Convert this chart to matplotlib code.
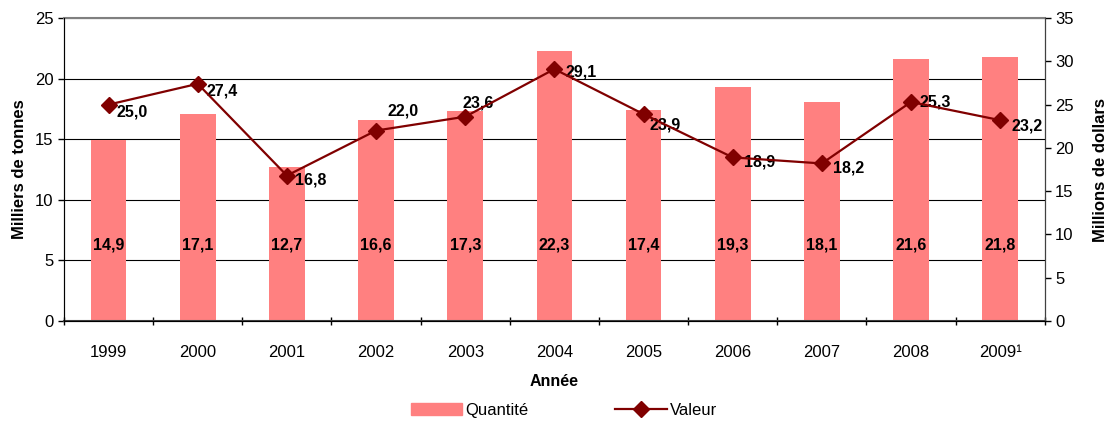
import numpy as np
import matplotlib
matplotlib.use("Agg")
import matplotlib.pyplot as plt
from matplotlib.lines import Line2D
from matplotlib.patches import Patch

plt.rcParams['font.family'] = ['Liberation Sans', 'DejaVu Sans']

# Data
years = ['1999', '2000', '2001', '2002', '2003', '2004', '2005', '2006', '2007', '2008', '2009¹']
quantite = [14.9, 17.1, 12.7, 16.6, 17.3, 22.3, 17.4, 19.3, 18.1, 21.6, 21.8]
valeur = [25.0, 27.4, 16.8, 22.0, 23.6, 29.1, 23.9, 18.9, 18.2, 25.3, 23.2]
# label offsets (points) for the line values
val_offsets = [(6, -5), (6, -5), (6, -3), (8, 14), (-2, 10), (8, -2), (4, -8), (8, -3), (8, -3), (6, 0), (8, -4)]

bar_color = '#FF8080'
line_color = '#800000'

fig = plt.figure(figsize=(11.17, 4.22), dpi=100)
ax = fig.add_axes([0.0573, 0.2393, 0.878, 0.718])
x = np.arange(len(years))

ax.bar(x, quantite, width=0.4, color=bar_color, zorder=2)
for xi, q in zip(x, quantite):
    ax.text(xi, 6.3, f"{q:.1f}".replace('.', ','), ha='center', va='center',
            fontsize=11.5, fontweight='bold', zorder=5)

ax.set_xlim(-0.5, len(years) - 0.5)
ax.set_ylim(0, 25)
ax.set_yticks(range(0, 26, 5))
ax.yaxis.grid(True, color='black', linewidth=0.8, zorder=0)
ax.set_axisbelow(True)
ax.set_xticks(x)
ax.set_xticklabels(years, fontsize=12)
ax.set_xticks(np.arange(-0.5, len(years), 1), minor=True)
ax.tick_params(axis='x', which='major', length=0, pad=17)
ax.tick_params(axis='x', which='minor', length=6, direction='inout', width=1)
ax.tick_params(axis='y', labelsize=12, length=4, width=1)
ax.set_ylabel('Milliers de tonnes', fontsize=12, fontweight='bold', labelpad=6)
ax.set_xlabel('Année', fontsize=11.5, fontweight='bold', labelpad=10)
ax.spines['top'].set_color('#808080')
ax.spines['top'].set_linewidth(1.5)
ax.spines['left'].set_color('#404040')
ax.spines['bottom'].set_color('#404040')
ax.spines['bottom'].set_linewidth(1.5)

ax2 = ax.twinx()
ax2.plot(x, valeur, color=line_color, marker='D', markersize=8, linewidth=1.6, zorder=4)
for xi, v, off in zip(x, valeur, val_offsets):
    ax2.annotate(f"{v:.1f}".replace('.', ','), (xi, v), xytext=off, textcoords='offset points',
                 ha='left', va='center', fontsize=11.5, fontweight='bold')
ax2.set_ylim(0, 35)
ax2.set_yticks(range(0, 36, 5))
ax2.tick_params(axis='y', labelsize=12, length=4, width=1)
ax2.set_ylabel('Millions de dollars', fontsize=12, fontweight='bold', labelpad=14)
ax2.spines['top'].set_visible(False)
ax2.spines['right'].set_color('#404040')

handles = [Patch(color=bar_color, label='Quantité'),
           Line2D([0], [0], color=line_color, marker='D', markersize=8, linewidth=1.6, label='Valeur')]
fig.legend(handles=handles, loc='center', bbox_to_anchor=(0.505, 0.028), ncol=2, frameon=False,
           fontsize=12, columnspacing=5.2, handlelength=3.1, handletextpad=0.2)

fig.savefig('out.png', dpi=100)
